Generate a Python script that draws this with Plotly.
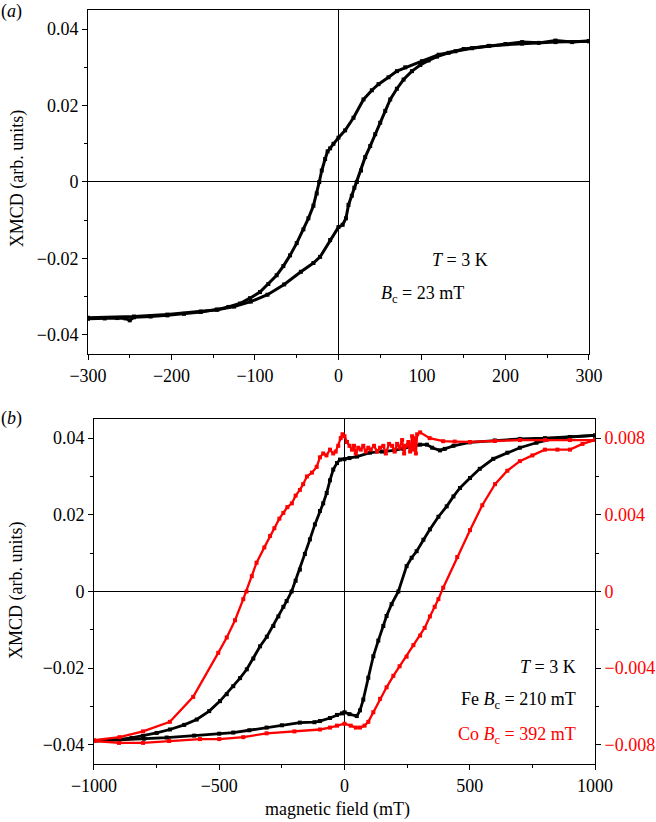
import plotly.graph_objects as go

# ---------------- Panel (a) data ----------------
a_down_x = [300, 280, 260, 240, 220, 200, 180, 160, 140, 120, 100, 80, 70, 60, 48, 40, 30, 18, 8, 0,
            -6, -10, -13, -16, -20, -23, -26, -30, -36, -42, -50, -58, -66, -74, -84, -94, -106,
            -118, -132, -146, -165, -185, -205, -225, -245, -250, -255, -265, -280, -300]
a_down_y = [0.0369, 0.0366, 0.0370, 0.0364, 0.0366, 0.0361, 0.0356, 0.0350, 0.0342, 0.0333, 0.0316,
            0.0300, 0.0290, 0.0274, 0.0256, 0.0240, 0.0216, 0.0168, 0.0135, 0.0116,
            0.0100, 0.0088, 0.0080, 0.0060, 0.0030, 0.0000, -0.0030, -0.0062, -0.0095, -0.0124,
            -0.0160, -0.0192, -0.0220, -0.0244, -0.0267, -0.0288, -0.0304,
            -0.0318, -0.0327, -0.0334, -0.0340, -0.0345, -0.0349, -0.0352, -0.0354, -0.0362,
            -0.0357, -0.0356, -0.0357, -0.0358]

a_up_x = [-300, -245, -205, -165, -145, -125, -105, -85, -65, -45, -30, -22, -10, 0, 5, 9, 12, 16,
          19, 22, 27, 32, 38, 44, 50, 56, 62, 70, 78, 88, 98, 108, 118, 132, 150, 180, 220, 260, 300]
a_up_y = [-0.0355, -0.0352, -0.0347, -0.0339, -0.0334, -0.0326, -0.0313, -0.0295, -0.0268, -0.0235,
          -0.0212, -0.0196, -0.0152, -0.0118, -0.0112, -0.0095, -0.0060, -0.0036,
          -0.0015, 0.0000, 0.0030, 0.0065, 0.0094, 0.0125, 0.0155, 0.0186, 0.0216, 0.0244,
          0.0268, 0.0290, 0.0306, 0.0318, 0.0328, 0.0338, 0.0348, 0.0356, 0.0362, 0.0366, 0.0368]

# ---------------- Panel (b) data: Fe (left axis) ----------------
fe_down_x = [1000, 900, 800, 700, 600, 500, 435, 400, 381, 350, 329, 302, 270, 235, 200, 150, 102,
             50, 20, 0, -18, -30, -45, -58, -71, -85, -98, -118, -138, -158, -178, -195, -211,
             -231, -244, -264, -284, -310, -337, -364, -390, -417, -444, -470, -497, -540, -590,
             -640, -697, -750, -804, -850, -898, -950, -1000]
fe_down_y = [0.0407, 0.0403, 0.0400, 0.0398, 0.0394, 0.0389, 0.0380, 0.0372, 0.0368, 0.0375,
             0.0383, 0.0383, 0.0378, 0.0372, 0.0368, 0.0365, 0.0362, 0.0352, 0.0348, 0.0345,
             0.0344, 0.0335, 0.0318, 0.0290, 0.0257, 0.0230, 0.0210, 0.0175, 0.0136, 0.0098,
             0.0057, 0.0028, 0.0000, -0.0025, -0.0040, -0.0065, -0.0090, -0.0118, -0.0143,
             -0.0175, -0.0203, -0.0226, -0.0247, -0.0268, -0.0286, -0.0312, -0.0334, -0.0348,
             -0.0360, -0.0369, -0.0377, -0.0382, -0.0386, -0.0388, -0.0390]

fe_up_x = [-1000, -900, -800, -710, -600, -500, -444, -380, -311, -250, -178, -120, -98, -58, -30,
           -10, 0, 20, 49, 62, 75, 95, 115, 135, 155, 168, 188, 215, 248, 268, 288, 315, 341, 375,
           408, 435, 461, 501, 540, 594, 650, 700, 766, 833, 900, 1000]
fe_up_y = [-0.0390, -0.0387, -0.0384, -0.0381, -0.0376, -0.0371, -0.0368, -0.0362, -0.0355,
           -0.0349, -0.0342, -0.0341, -0.0338, -0.0330, -0.0322, -0.0318, -0.0315, -0.0320,
           -0.0325, -0.0310, -0.0282, -0.0225, -0.0169, -0.0128, -0.0090, -0.0064, -0.0033,
           0.0000, 0.0066, 0.0088, 0.0105, 0.0135, 0.0162, 0.0195, 0.0222, 0.0248, 0.0270,
           0.0296, 0.0320, 0.0346, 0.0362, 0.0375, 0.0388, 0.0398, 0.0403, 0.0407]

# ---------------- Panel (b) data: Co (right axis) ----------------
co_down_x = [1000, 900, 800, 700, 600, 501, 440, 394, 340, 302, 290, 285, 280, 275, 270, 262, 255,
             245, 238, 230, 220, 210, 200, 190, 178, 165, 155, 142, 130, 118, 105, 95, 85, 75,
             65, 55, 45, 38, 30, 20, 10, 0, -8, -15, -25, -35, -45, -58, -72, -85, -98, -111,
             -130, -150, -165, -178, -195, -210, -228, -244, -260, -280, -297, -320, -351, -370,
             -391, -404, -437, -470, -504, -604, -697, -804, -898, -1000]
co_down_y = [0.0079, 0.0079, 0.0079, 0.0079, 0.00785, 0.0078, 0.00782, 0.00784, 0.0080, 0.0083,
             0.0082, 0.0072, 0.0080, 0.0074, 0.0081, 0.0073, 0.0078, 0.0076, 0.0072, 0.0079,
             0.0075, 0.0077, 0.0073, 0.0076, 0.0077, 0.0072, 0.0076, 0.0075, 0.0073, 0.0076,
             0.0074, 0.0075, 0.0073, 0.0076, 0.0074, 0.0075, 0.0072, 0.0076, 0.0074, 0.0076,
             0.0078, 0.0081, 0.0082, 0.0080, 0.0076, 0.0073, 0.0072, 0.0074, 0.0071, 0.0072,
             0.0070, 0.0065, 0.0062, 0.0060, 0.0056, 0.0053, 0.0050, 0.0046, 0.0044, 0.0041,
             0.0038, 0.0033, 0.0029, 0.0023, 0.0015, 0.0008, 0.0000, -0.0004, -0.0015, -0.0024,
             -0.0032, -0.0055, -0.0068, -0.0073, -0.0076, -0.00776]

co_up_x = [-1000, -900, -804, -700, -577, -500, -404, -311, -200, -98, -58, -30, 0, 25, 45, 62, 80,
           95, 115, 142, 168, 195, 220, 248, 275, 302, 320, 341, 360, 375, 394, 450, 501, 550,
           601, 650, 700, 750, 800, 850, 900, 950, 1000]
co_up_y = [-0.0078, -0.0079, -0.0079, -0.0078, -0.0077, -0.0077, -0.0076, -0.0074, -0.0073,
           -0.0072, -0.0071, -0.0070, -0.0069, -0.0070, -0.0071, -0.0071, -0.0070, -0.0068,
           -0.0063, -0.0056, -0.0050, -0.0044, -0.0039, -0.0034, -0.0028, -0.0023, -0.0019,
           -0.0013, -0.0008, -0.0004, 0.0002, 0.0018, 0.0032, 0.0045, 0.0056, 0.0063, 0.0068,
           0.0071, 0.0074, 0.0074, 0.0074, 0.0077, 0.0079]

x_ticks_a = [-300, -200, -100, 0, 100, 200, 300]
x_ticks_b = [-1000, -500, 0, 500, 1000]
y_ticks = [-0.04, -0.02, 0, 0.02, 0.04]
y2_ticks = [-0.008, -0.004, 0, 0.004, 0.008]

FONT = "Liberation Serif, Times New Roman, serif"
FS = 18
BLACK = "#000000"
RED = "#ff0000"

fig = go.Figure()

for xs, ys in [(a_down_x, a_down_y), (a_up_x, a_up_y)]:
    fig.add_trace(go.Scatter(x=xs, y=ys, xaxis="x", yaxis="y", mode="lines+markers",
                             line=dict(color=BLACK, width=3),
                             marker=dict(symbol="square", size=4, color=BLACK),
                             showlegend=False))

for xs, ys in [(fe_down_x, fe_down_y), (fe_up_x, fe_up_y)]:
    fig.add_trace(go.Scatter(x=xs, y=ys, xaxis="x2", yaxis="y2", mode="lines+markers",
                             line=dict(color=BLACK, width=2.8),
                             marker=dict(symbol="square", size=4, color=BLACK),
                             showlegend=False))

for xs, ys in [(co_down_x, co_down_y), (co_up_x, co_up_y)]:
    fig.add_trace(go.Scatter(x=xs, y=ys, xaxis="x2", yaxis="y3", mode="lines+markers",
                             line=dict(color=RED, width=2.3),
                             marker=dict(symbol="square", size=4, color=RED),
                             showlegend=False))

axis_common = dict(showgrid=False, showline=True, linecolor=BLACK, linewidth=1, mirror=True,
                   ticks="outside", ticklen=5, tickwidth=1, tickcolor=BLACK,
                   zeroline=True, zerolinecolor=BLACK, zerolinewidth=1, automargin=False,
                   tickfont=dict(family=FONT, size=FS, color=BLACK))

fig.update_layout(
    width=656, height=822,
    margin=dict(l=88, r=61, t=10, b=58),
    paper_bgcolor="white", plot_bgcolor="white",
    font=dict(family=FONT, size=FS, color=BLACK),
    xaxis=dict(domain=[0, 0.988], anchor="y", range=[-300, 300], tickvals=x_ticks_a,
               minor=dict(dtick=50, tick0=0, ticks="outside", ticklen=3, tickcolor=BLACK),
               **axis_common),
    yaxis=dict(domain=[0.5438, 1], anchor="x", range=[-0.045, 0.045], tickvals=y_ticks,
               minor=dict(dtick=0.01, tick0=0, ticks="outside", ticklen=3, tickcolor=BLACK),
               **axis_common),
    xaxis2=dict(domain=[0.0118, 1], anchor="y2", range=[-1000, 1000], tickvals=x_ticks_b,
                minor=dict(dtick=250, tick0=0, ticks="outside", ticklen=3, tickcolor=BLACK),
                **axis_common),
    yaxis2=dict(domain=[0, 0.4576], anchor="x2", range=[-0.045, 0.045], tickvals=y_ticks,
                minor=dict(dtick=0.01, tick0=0, ticks="outside", ticklen=3, tickcolor=BLACK),
                **axis_common),
    yaxis3=dict(overlaying="y2", anchor="x2", side="right", range=[-0.009, 0.009],
                tickvals=y2_ticks, showgrid=False, showline=True, linecolor=BLACK, linewidth=1,
                ticks="outside", ticklen=5, tickcolor=BLACK, zeroline=False, automargin=False,
                minor=dict(dtick=0.002, tick0=0, ticks="outside", ticklen=3, tickcolor=BLACK),
                tickfont=dict(family=FONT, size=FS, color=RED)),
)

ann = []
ann.append(dict(text="(<i>a</i>)", x=-0.15, y=0.998, xref="paper", yref="paper",
                xanchor="center", yanchor="middle", showarrow=False, font=dict(size=FS)))
ann.append(dict(text="(<i>b</i>)", x=-0.15, y=0.458, xref="paper", yref="paper",
                xanchor="center", yanchor="middle", showarrow=False, font=dict(size=FS)))
ann.append(dict(text="XMCD (arb. units)", x=-0.14, y=0.777, xref="paper", yref="paper",
                textangle=-90, xanchor="center", yanchor="middle", showarrow=False,
                font=dict(size=FS)))
ann.append(dict(text="XMCD (arb. units)", x=-0.14, y=0.2308, xref="paper", yref="paper",
                textangle=-90, xanchor="center", yanchor="middle", showarrow=False,
                font=dict(size=FS)))
ann.append(dict(text="magnetic field (mT)", x=0.493, y=-0.061, xref="paper", yref="paper",
                xanchor="center", yanchor="middle", showarrow=False, font=dict(size=FS)))
# panel (a) text
ann.append(dict(text="<i>T</i> = 3 K", x=110, y=-0.0205, xref="x", yref="y",
                xanchor="left", yanchor="middle", showarrow=False, font=dict(size=FS)))
ann.append(dict(text="<i>B</i><sub>c</sub> = 23 mT", x=48, y=-0.0295, xref="x", yref="y",
                xanchor="left", yanchor="middle", showarrow=False, font=dict(size=FS)))
# panel (b) text
ann.append(dict(text="<i>T</i> = 3 K", x=932, y=-0.0196, xref="x2", yref="y2",
                xanchor="right", yanchor="middle", showarrow=False, font=dict(size=FS)))
ann.append(dict(text="Fe <i>B</i><sub>c</sub> = 210 mT", x=932, y=-0.0285, xref="x2", yref="y2",
                xanchor="right", yanchor="middle", showarrow=False, font=dict(size=FS)))
ann.append(dict(text="Co <i>B</i><sub>c</sub> = 392 mT", x=932, y=-0.0375, xref="x2", yref="y2",
                xanchor="right", yanchor="middle", showarrow=False,
                font=dict(size=FS, color=RED)))
fig.update_layout(annotations=ann)

fig.write_html("out.html", config={"displayModeBar": False},
               post_script="document.body.style.margin='0px';document.body.style.overflow='hidden';")
